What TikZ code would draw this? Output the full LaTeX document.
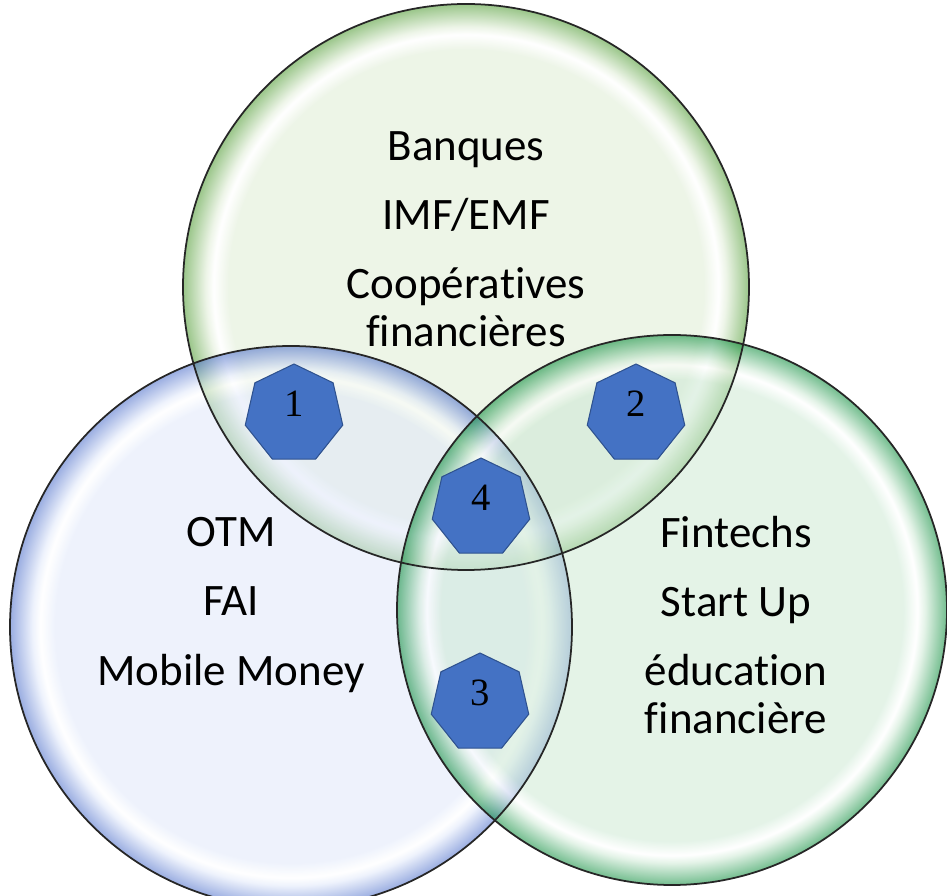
\documentclass[tikz,border=0pt]{standalone}
\usepackage{fontspec}
\setmainfont[Ligatures=NoCommon]{Carlito}
\newfontfamily\numfont{Liberation Serif}
\usetikzlibrary{shapes.geometric}

\definecolor{bankIn}{RGB}{222,236,212}
\definecolor{bankRim}{RGB}{70,150,40}
\definecolor{telIn}{RGB}{224,232,250}
\definecolor{telRim}{RGB}{70,105,200}
\definecolor{finIn}{RGB}{205,233,212}
\definecolor{finRim}{RGB}{0,135,50}
\definecolor{heptFill}{RGB}{68,114,196}
\definecolor{heptLine}{RGB}{47,82,143}

% glassy bubbles: light inside, coloured rim
\pgfdeclareradialshading{bankshade}{\pgfpoint{0bp}{0bp}}{color(0bp)=(bankIn); color(21bp)=(bankIn); color(22.3bp)=(white); color(23bp)=(bankIn); color(25bp)=(bankRim); color(50bp)=(bankRim)}
\pgfdeclareradialshading{telshade}{\pgfpoint{0bp}{0bp}}{color(0bp)=(telIn); color(21bp)=(telIn); color(22.3bp)=(white); color(23bp)=(telIn); color(25bp)=(telRim); color(50bp)=(telRim)}
\pgfdeclareradialshading{finshade}{\pgfpoint{0bp}{0bp}}{color(0bp)=(finIn); color(21bp)=(finIn); color(22.3bp)=(white); color(23bp)=(finIn); color(25bp)=(finRim); color(50bp)=(finRim)}

\begin{document}
\begin{tikzpicture}[x=0.02cm,y=0.02cm,
    bubble/.style={opacity=0.55},
    rim/.style={draw=black!85,line width=1pt},
    actors/.style={align=center,font=\fontsize{25.6pt}{27.3pt}\selectfont},
    hepta/.style={regular polygon,regular polygon sides=7,minimum size=2cm,inner sep=0pt,
        fill=heptFill,draw=heptLine,line width=0.6pt,
        font=\numfont\fontsize{22pt}{22pt}\selectfont,text height=0.52cm,text depth=0.4cm}]
    \useasboundingbox (0,0) rectangle (947,896);

    % the three sets
    \shade[shading=bankshade,bubble] (466,609) circle (283);
    \shade[shading=telshade,bubble] (291,269) circle (281);
    \shade[shading=finshade,bubble] (672,286) circle (275);
    \draw[rim] (466,609) circle (283);
    \draw[rim] (291,269) circle (281);
    \draw[rim] (672,286) circle (275);

    % members of each set
    \node[actors] (banks) at (466,657) {Banques\\[12pt]IMF/EMF\\[12pt]Coopératives\\financières};
    \node[actors] (telcos) at (231,291) {OTM\\[12pt]FAI\\[12pt]Mobile Money};
    \node[actors] (fintechs) at (736,271) {Fintechs\\[12pt]Start Up\\[12pt]éducation\\financière};

    % intersections
    \node[hepta] (h1) at (294,482) {1};
    \node[hepta] (h2) at (636,482) {2};
    \node[hepta] (h4) at (481,388) {4};
    \node[hepta] (h3) at (480,193) {3};
\end{tikzpicture}
\end{document}
